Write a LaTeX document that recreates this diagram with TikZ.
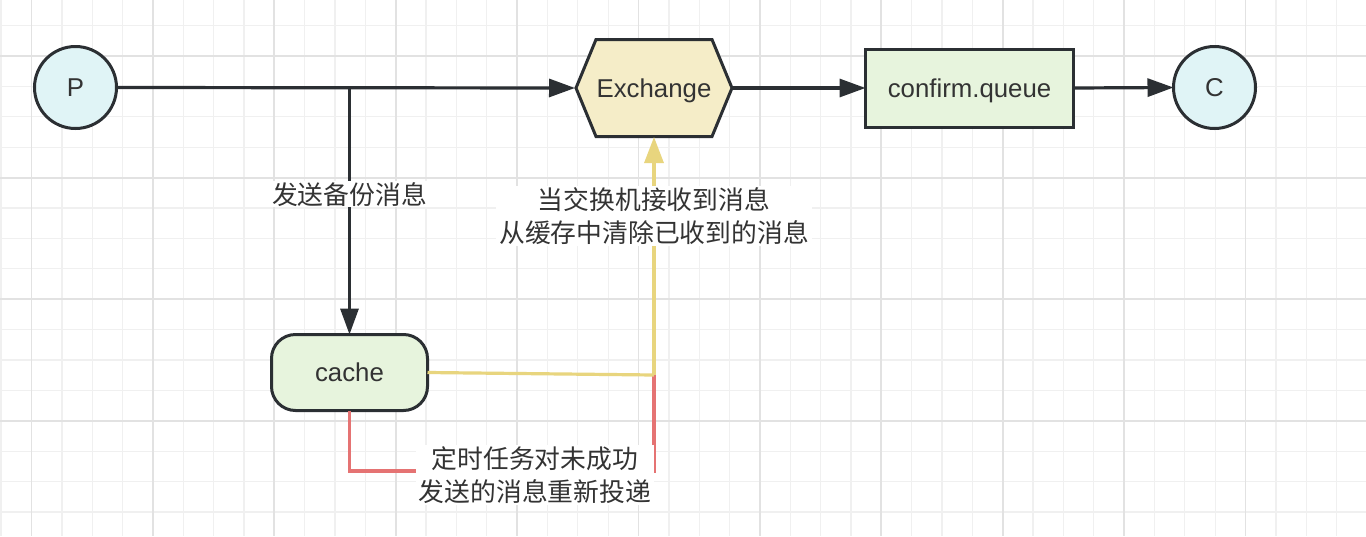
\documentclass[tikz,border=0pt]{standalone}
\usepackage{fontspec}
\setmainfont{Liberation Sans}
\newfontfamily\cjk{Noto Sans CJK SC}
\usetikzlibrary{arrows.meta}
\definecolor{ink}{HTML}{2B2F33}
\definecolor{txt}{HTML}{333333}
\definecolor{cyanfill}{HTML}{E0F4F6}
\definecolor{exfill}{HTML}{F5EDC8}
\definecolor{grnfill}{HTML}{E7F4DD}
\definecolor{ylw}{HTML}{E8D57E}
\definecolor{rdl}{HTML}{E57373}
\definecolor{gmin}{HTML}{F0F0F0}
\definecolor{gmaj}{HTML}{E2E2E2}
\begin{document}
\begin{tikzpicture}[x=1pt,y=-1pt,
  every node/.style={font=\fontsize{25.8}{34}\selectfont, text=txt, outer sep=0pt},
  capc/.style={text height=18.4pt, text depth=0pt},
  circ/.style={capc, circle, draw=ink, line width=3pt, fill=cyanfill, minimum size=82pt, inner sep=0pt},
  boxq/.style={capc, rectangle, draw=ink, line width=3pt, fill=grnfill, minimum width=208pt, minimum height=78pt, inner sep=0pt},
  cachebox/.style={capc, rectangle, rounded corners=24pt, draw=ink, line width=3pt, fill=grnfill, minimum width=156pt, minimum height=76pt, inner sep=0pt},
  hexnode/.style={capc, rectangle, minimum width=158pt, minimum height=98pt, inner sep=0pt},
  conn/.style={draw=ink, line width=3.2pt, -{Triangle[length=26pt,width=18pt]}},
  yconn/.style={draw=ylw, line width=3.2pt, -{Triangle[length=26pt,width=19pt]}},
  rconn/.style={draw=rdl, line width=3.2pt},
  lbl/.style={fill=white, inner xsep=3pt, inner ysep=1pt, align=center, font=\fontsize{25.8}{33.5}\selectfont\cjk}
]
\useasboundingbox (0,0) rectangle (1366,536);
\fill[white] (0,0) rectangle (1366,536);
% grid
\begin{scope}
\clip (0,0) rectangle (1366,536);
\foreach \i in {-2,...,45} \draw[gmin, line width=1.3pt] ({31.5+30.35*\i},0) -- ++(0,536);
\foreach \j in {-2,...,17} \draw[gmin, line width=1.3pt] (0,{56+30.4*\j}) -- ++(1366,0);
\foreach \i in {0,...,11} \draw[gmaj, line width=1.8pt] ({31.5+121.4*\i},0) -- ++(0,536);
\foreach \j in {0,...,4} \draw[gmaj, line width=1.8pt] (0,{56+121.6*\j}) -- ++(1366,0);
\end{scope}
% hexagon
\filldraw[fill=exfill, draw=ink, line width=3pt, line join=miter]
  (576,88) -- (596,39.5) -- (712,39.5) -- (732,88) -- (712,136.5) -- (596,136.5) -- cycle;
% nodes
\node[circ] (P) at (75.5,87.5) {P};
\node[circ] (C) at (1214.5,87.5) {C};
\node[hexnode] (ex) at (654,88) {Exchange};
\node[boxq] (q) at (969.5,88) {confirm.queue};
\node[cachebox] (cache) at (349.5,372.5) {cache};
\coordinate (yc) at (654,375);
\coordinate (rc) at (654,471);
% red line
\draw[rconn] (cache.south) -- (cache.south |- rc) -- node[lbl, pos=0.609, yshift=-4pt] {定时任务对未成功\\发送的消息重新投递} (rc) -- (yc);
% yellow
\draw[ylw, line width=3.2pt] (cache.east) -- (yc);
\draw[yconn] (yc) -- node[lbl, pos=0.668] {当交换机接收到消息\\从缓存中清除已收到的消息} (ex.south);
% black
\draw[conn] (P.east) -- (ex.west);
\draw[conn] (cache.north |- P.east) -- node[lbl, pos=0.433] {发送备份消息} (cache.north);
\draw[conn] (ex.east) -- (q.west);
\draw[conn] (q.east) -- (C.west);
\end{tikzpicture}
\end{document}
